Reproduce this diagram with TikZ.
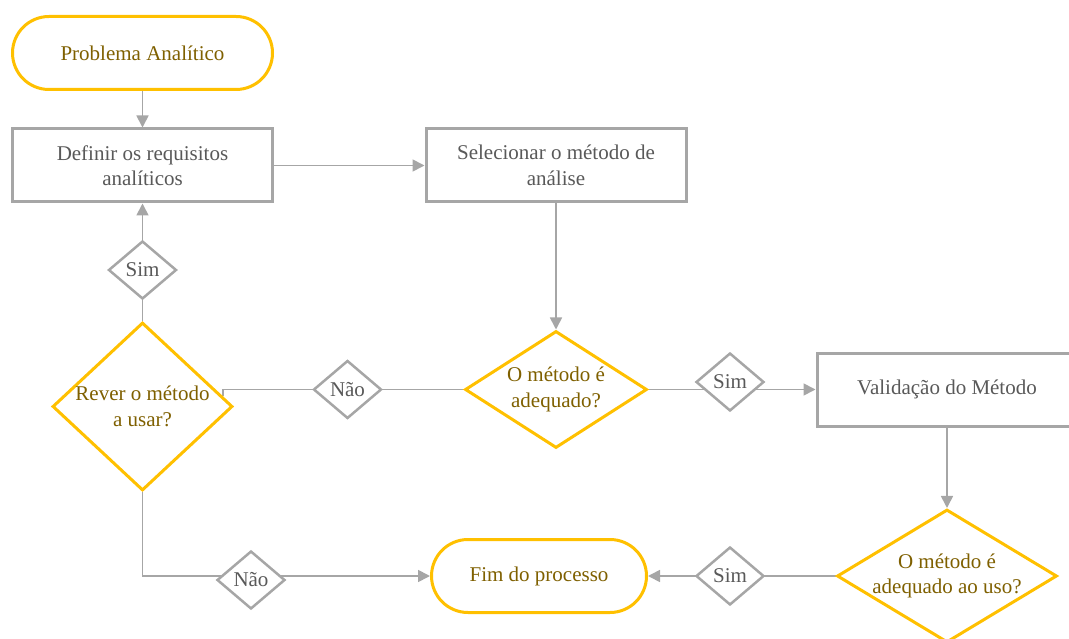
\documentclass[tikz,border=0pt]{standalone}
\usepackage{fontspec}
\setmainfont{Liberation Serif}
\usetikzlibrary{shapes.geometric,arrows.meta}
\definecolor{ybord}{HTML}{FFC000}
\definecolor{ytxt}{HTML}{7F6000}
\definecolor{gbord}{HTML}{A6A6A6}
\definecolor{gtxt}{HTML}{595959}
\pgfdeclarelayer{bg}\pgfsetlayers{bg,main}
\begin{document}
\begin{tikzpicture}[x=1pt,y=-1pt, font=\fontsize{21}{25.5}\selectfont,
 term/.style={draw=ybord, line width=3pt, rounded corners=36.5pt, minimum height=73pt, inner sep=0pt, text=ytxt, fill=white, align=center},
 procbox/.style={draw=gbord, line width=3pt, minimum width=260pt, minimum height=73pt, text=gtxt, align=center, fill=white, inner sep=0pt},
 bigdia/.style={diamond, draw=ybord, line width=3pt, inner sep=0pt, fill=white},
 ylab/.style={text=ytxt, align=center},
 smalldia/.style={diamond, draw=gbord, line width=2.5pt, minimum width=68pt, minimum height=58pt, inner sep=0pt, text=gtxt, fill=white},
 conn/.style={draw=gbord, line width=1.7pt},
 arr/.style={conn, -{Triangle[length=12pt,width=12pt]}}
]
\useasboundingbox (0,0) rectangle (1069,639);
\clip (0,0) rectangle (1069,639);
\node[term, minimum width=260pt] (prob) at (142.5,53) {Problema Analítico};
\node[procbox] (def) at (142.5,165.5) {Definir os requisitos\\analíticos};
\node[procbox] (sel) at (556,165.5) {Selecionar o método de\\análise};
\node[bigdia, minimum width=182pt, minimum height=117pt, label={[ylab]center:{O método é\\adequado?}}] (adeq) at (556,389.5) {};
\node[procbox] (val) at (947,389.5) {Validação do Método};
\node[bigdia, minimum width=220pt, minimum height=133pt, label={[ylab]center:{O método é\\adequado ao uso?}}] (uso) at (947,576) {};
\node[term, minimum width=215pt] (fim) at (539,576) {Fim do processo};
\node[bigdia, minimum width=180pt, minimum height=168pt, label={[ylab]center:{Rever o método\\a usar?}}] (rever) at (142.5,406.5) {};
\node[smalldia] (sim1) at (142.5,270) {Sim};
\node[smalldia] (nao1) at (347.5,389.5) {Não};
\node[smalldia] (sim2) at (730,382) {Sim};
\node[smalldia] (sim3) at (730,576) {Sim};
\node[smalldia] (nao2) at (251,580) {Não};
\coordinate (rin) at (223,396);
\begin{pgfonlayer}{bg}
\draw[arr] (prob) -- (def);
\draw[arr] (def) -- (sel);
\draw[arr] (sel) -- (adeq);
\draw[arr] (adeq.east) -- (val.west);
\draw[arr] (val) -- (uso);
\draw[arr] (uso.west) -- (fim.east);
\draw[arr] (rever.north) -- (def.south);
\draw[conn] (adeq.west) -- (rin |- adeq.west) -- (rin);
\draw[arr] (rever.south) |- (fim.west);
\end{pgfonlayer}
\end{tikzpicture}
\end{document}
